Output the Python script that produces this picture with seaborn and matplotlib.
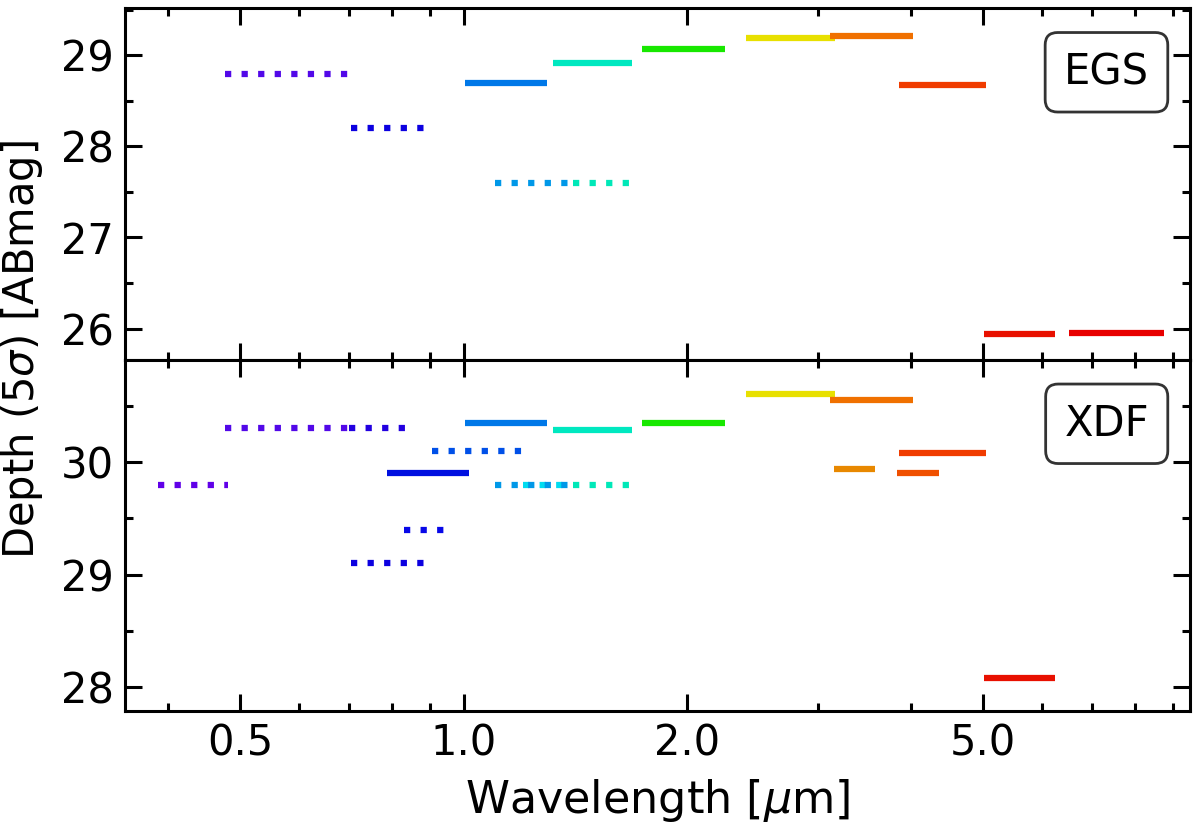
import matplotlib
matplotlib.use('Agg')
import matplotlib.pyplot as plt
import matplotlib.ticker as mticker
import seaborn as sns
import pandas as pd

# filter bands: name, wavelength range [um], 5 sigma depth [ABmag]
egs_bands = ['F606W', 'F814W', 'F140W', 'F125W', 'F160W',
             'F115W', 'F150W', 'F200W', 'F277W', 'F356W', 'F444W', 'CH3', 'CH4']
egs_lo = [0.477, 0.705, 1.203, 1.101, 1.403,
          1.004, 1.320, 1.740, 2.396, 3.116, 3.850, 5.010, 6.530]
egs_hi = [0.708, 0.895, 1.395, 1.396, 1.687,
          1.296, 1.685, 2.250, 3.160, 4.030, 5.050, 6.250, 8.770]
egs_depth = [28.80, 28.20, None, 27.60, 27.60,
             28.70, 28.92, 29.07, 29.19, 29.21, 28.67, 25.94, 25.95]

xdf_bands = ['F435W', 'F606W', 'F775W', 'F814W', 'F850LP', 'F105W', 'F140W', 'F125W', 'F160W',
             'F090W', 'F115W', 'F150W', 'F200W', 'F277W', 'F356W', 'F335M', 'F444W', 'F410M', 'CH3']
xdf_lo = [0.388, 0.477, 0.700, 0.705, 0.831, 0.907, 1.203, 1.101, 1.403,
          0.788, 1.004, 1.320, 1.740, 2.396, 3.116, 3.150, 3.850, 3.830, 5.010]
xdf_hi = [0.481, 0.708, 0.843, 0.895, 0.950, 1.211, 1.395, 1.396, 1.687,
          1.015, 1.296, 1.685, 2.250, 3.160, 4.030, 3.580, 5.050, 4.360, 6.250]
xdf_depth = [29.80, 30.30, 30.30, 29.10, 29.40, 30.10, 29.80, 29.80, 29.80,
             29.90, 30.35, 30.28, 30.35, 30.60, 30.55, 29.94, 30.08, 29.90, 28.08]

hst_bands = ['F435W', 'F606W', 'F775W', 'F814W', 'F850LP', 'F105W', 'F125W', 'F140W', 'F160W']

band_colors = {
    'F435W': '#6000e8', 'F606W': '#5208e8', 'F775W': '#2200e0', 'F814W': '#0c00e0',
    'F850LP': '#0808e8', 'F105W': '#0050e8', 'F125W': '#0098e8', 'F140W': '#00dcf0',
    'F160W': '#00e8b8', 'F090W': '#0010e0', 'F115W': '#0078e8', 'F150W': '#00e8c0',
    'F200W': '#18e800', 'F277W': '#e8e000', 'F335M': '#e88800', 'F356W': '#f07000',
    'F410M': '#f05000', 'F444W': '#f03c00', 'CH3': '#e81000', 'CH4': '#e80000',
}

fields = {'EGS': (egs_bands, egs_lo, egs_hi, egs_depth),
          'XDF': (xdf_bands, xdf_lo, xdf_hi, xdf_depth)}

rows = []
for field, (bands, lo, hi, depth) in fields.items():
    for b, l, h, d in zip(bands, lo, hi, depth):
        if d is None:
            continue
        kind = 'HST' if b in hst_bands else 'JWST'
        rows.append(dict(field=field, band=b, kind=kind, wave=l, depth=d))
        rows.append(dict(field=field, band=b, kind=kind, wave=h, depth=d))
df = pd.DataFrame(rows)

sns.set_style('ticks')
plt.rcParams['font.family'] = ['DejaVu Sans']
plt.rcParams['font.size'] = 30
plt.rcParams['axes.linewidth'] = 2.2
plt.rcParams['lines.solid_capstyle'] = 'butt'
plt.rcParams['lines.dash_capstyle'] = 'butt'
for k in ['text.color', 'axes.edgecolor', 'axes.labelcolor', 'xtick.color', 'ytick.color']:
    plt.rcParams[k] = 'black'

fig = plt.figure(figsize=(12, 8.24), dpi=100)
gs = fig.add_gridspec(2, 1, left=0.1042, right=0.9917, top=0.9903, bottom=0.1371, hspace=0)
axes = gs.subplots(sharex=True)

ylims = {'EGS': (25.66, 29.52), 'XDF': (27.79, 30.91)}

for ax, (field, (bands, _, _, _)) in zip(axes, fields.items()):
    sub = df[df['field'] == field]
    order = [b for b in bands if b in set(sub['band'])]
    sns.lineplot(data=sub, x='wave', y='depth', hue='band', hue_order=order,
                 palette=band_colors, style='kind', dashes={'HST': (1, 1.65), 'JWST': ''},
                 estimator=None, sort=False, legend=False, lw=4.5, ax=ax)
    ax.set_xscale('log')
    ax.set_xlim(0.35, 9.5)
    ax.set_ylim(*ylims[field])
    ax.set_xlabel('')
    ax.set_ylabel('')
    ax.xaxis.set_major_locator(mticker.FixedLocator([0.5, 1.0, 2.0, 5.0]))
    ax.xaxis.set_major_formatter(mticker.FormatStrFormatter('%.1f'))
    ax.xaxis.set_minor_locator(mticker.LogLocator(subs=range(2, 10)))
    ax.xaxis.set_minor_formatter(mticker.NullFormatter())
    ax.yaxis.set_major_locator(mticker.MultipleLocator(1))
    ax.yaxis.set_minor_locator(mticker.MultipleLocator(0.5))
    ax.tick_params(which='both', direction='in', top=True, right=True, width=2.2,
                   labelsize=30, pad=8, color='black', labelcolor='black')
    ax.tick_params(which='major', length=12.5)
    ax.tick_params(which='minor', length=6)
    for s in ax.spines.values():
        s.set_linewidth(2.2)
        s.set_color('black')
    ax.text(0.9615, 0.783, field, transform=ax.transAxes, ha='right', va='baseline',
            fontsize=30, color='black',
            bbox=dict(boxstyle='round,pad=0.45,rounding_size=0.3', fc='white',
                      ec='#333333', lw=2))

axes[0].tick_params(labelbottom=False)

fig.text(0.548, 0.0135, r'Wavelength [$\mu$m]', ha='center', va='baseline', fontsize=32,
         color='black')
fig.text(0.018, 0.576, r'Depth (5$\sigma$) [ABmag]', ha='center', va='center',
         rotation=90, fontsize=30, color='black')

fig.savefig('out.png', dpi=100)
